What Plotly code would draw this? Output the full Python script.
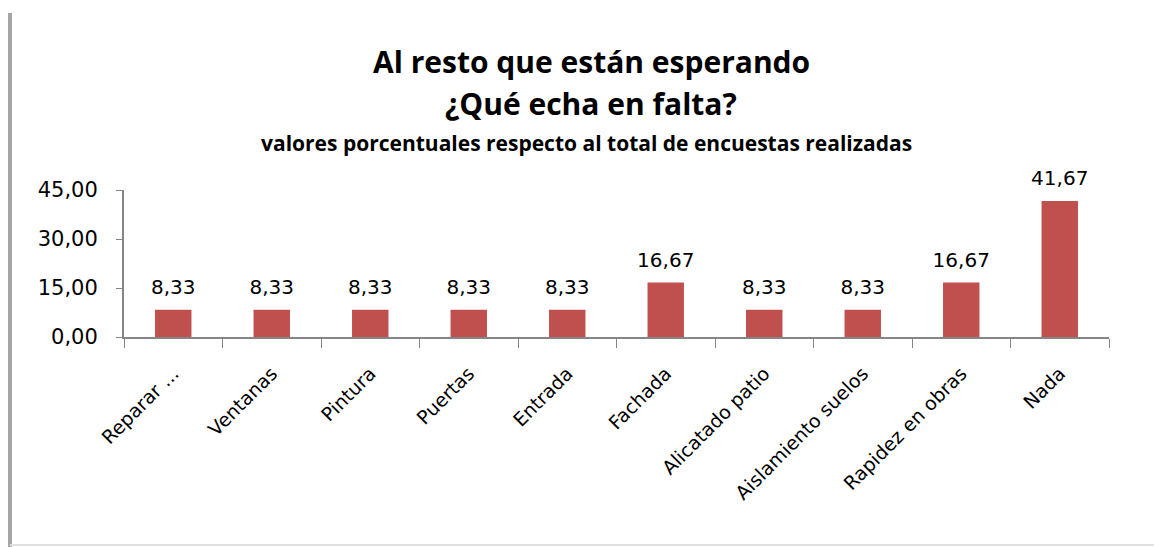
import plotly.graph_objects as go

categories = ["Reparar ...", "Ventanas", "Pintura", "Puertas", "Entrada", "Fachada",
              "Alicatado patio", "Aislamiento suelos", "Rapidez en obras", "Nada"]
values = [8.33, 8.33, 8.33, 8.33, 8.33, 16.67, 8.33, 8.33, 16.67, 41.67]
y_ticks = [0, 15, 30, 45]

W, H = 1162, 547
OFF = 8  # page body margin
# plot area in screen pixels
SX0, SX1, SY0, SY1 = 124, 1109, 190, 337
L, T = SX0 - OFF, SY0 - OFF
R, B = W - (SX1 - OFF), H - (SY1 - OFF)
pw, ph = SX1 - SX0, SY1 - SY0

def px(x):
    return (x - SX0) / pw

def py(y):
    return 1 - (y - SY0) / ph

TFONT = "Open Sans"
NFONT = "DejaVu Sans"

fig = go.Figure()
fig.add_trace(go.Bar(
    x=categories, y=values,
    marker=dict(color="#C0504D", line=dict(width=0)),
    width=0.37, hoverinfo="skip",
))
fig.add_trace(go.Scatter(
    x=categories, y=values, mode="markers+text",
    marker=dict(size=16, opacity=0),
    text=[f"{v:.2f}".replace(".", ",") for v in values],
    textposition="top center",
    textfont=dict(family=NFONT, size=20, color="#000000"),
    cliponaxis=False, hoverinfo="skip",
))

fig.update_layout(
    width=W, height=H,
    margin=dict(l=L, r=R, t=T, b=B, autoexpand=False),
    paper_bgcolor="white", plot_bgcolor="white",
    separators=",.",
    showlegend=False,
    font=dict(family=TFONT, color="#000000"),
    xaxis=dict(
        tickson="boundaries", ticks="outside", ticklen=9, tickcolor="#868686",
        showline=True, linecolor="#868686", linewidth=2,
        tickangle=-45, tickfont=dict(family=NFONT, size=19),
        showgrid=False, range=[-0.5, 9.5], ticklabelstandoff=16,
    ),
    yaxis=dict(
        range=[0, 45], tickvals=y_ticks, tickformat=".2f",
        ticks="outside", ticklen=6, tickcolor="#868686",
        showline=True, linecolor="#868686", linewidth=2,
        tickfont=dict(family=NFONT, size=21), showgrid=False, zeroline=False,
        ticklabelstandoff=14,
    ),
    annotations=[
        dict(text="<b>Al resto que están esperando</b>", x=px(591), y=py(61),
             xref="paper", yref="paper", showarrow=False,
             xanchor="center", yanchor="middle",
             font=dict(family=TFONT, size=30)),
        dict(text="<b>¿Qué echa en falta?</b>", x=px(591), y=py(103),
             xref="paper", yref="paper", showarrow=False,
             xanchor="center", yanchor="middle",
             font=dict(family=TFONT, size=30)),
        dict(text="<b>valores porcentuales respecto al total de encuestas realizadas</b>",
             x=px(586), y=py(143), xref="paper", yref="paper", showarrow=False,
             xanchor="center", yanchor="middle",
             font=dict(family=TFONT, size=21)),
    ],
    shapes=[
        dict(type="line", xref="paper", yref="paper", x0=px(10), x1=px(10),
             y0=py(13), y1=py(560), line=dict(color="#A6A6A6", width=4)),
        dict(type="line", xref="paper", yref="paper", x0=px(10), x1=px(1170),
             y0=py(545), y1=py(545), line=dict(color="#E0E0E0", width=2)),
    ],
)

fig.write_html("out.html")
